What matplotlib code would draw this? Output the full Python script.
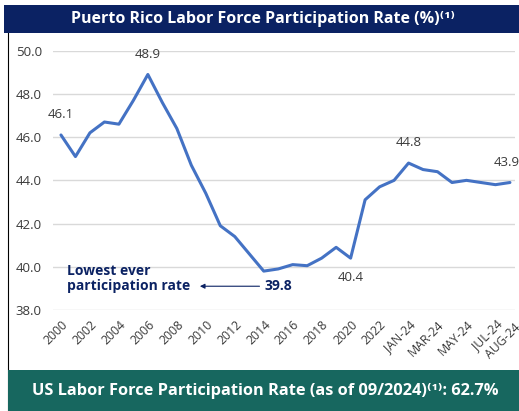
import matplotlib
matplotlib.use("Agg")
import matplotlib.pyplot as plt
import matplotlib.patches as patches
import matplotlib.transforms as mtrans

plt.rcParams['font.family'] = ['Open Sans', 'DejaVu Sans']

# data
labels = [str(y) for y in range(2000, 2024)] + \
    ['JAN-24', 'FEB-24', 'MAR-24', 'APR-24', 'MAY-24', 'JUN-24', 'JUL-24', 'AUG-24']
rate = [46.1, 45.1, 46.2, 46.7, 46.6, 47.7, 48.9, 47.6, 46.4, 44.7, 43.4, 41.9,
        41.4, 40.6, 39.8, 39.9, 40.1, 40.05, 40.4, 40.9, 40.4, 43.1, 43.7, 44.0,
        44.8, 44.5, 44.4, 43.9, 44.0, 43.9, 43.8, 43.9]
shown = ['2000', '2002', '2004', '2006', '2008', '2010', '2012', '2014', '2016',
         '2018', '2020', '2022', 'JAN-24', 'MAR-24', 'MAY-24', 'JUL-24', 'AUG-24']
yticks = [38, 40, 42, 44, 46, 48, 50]

navy = '#0b2263'
teal = '#17675f'
blue = '#4472c4'
txt = '#3a3a3a'

W, H = 519, 411
fig = plt.figure(figsize=(W / 100, H / 100), dpi=100)

# frame and colour bars
fig.patches.append(patches.Rectangle((8 / W, 0), 1, (411 - 8) / H, transform=fig.transFigure,
                                     fill=False, edgecolor='black', linewidth=0.8))
fig.patches.append(patches.Rectangle((4 / W, (411 - 33) / H), 1, 28 / H, transform=fig.transFigure,
                                     facecolor=navy, edgecolor='none'))
fig.patches.append(patches.Rectangle((8 / W, 0), 1, 41 / H, transform=fig.transFigure,
                                     facecolor=teal, edgecolor='none'))
fig.text(263 / W, (411 - 19) / H, 'Puerto Rico Labor Force Participation Rate (%)⁽¹⁾',
         color='white', fontsize=11.5, fontweight='bold', ha='center', va='center')
fig.text(265 / W, 20 / H, 'US Labor Force Participation Rate (as of 09/2024)⁽¹⁾: 62.7%',
         color='white', fontsize=11.8, fontweight='bold', ha='center', va='center')

ax = fig.add_axes([53 / W, (411 - 310) / H, (515 - 53) / W, 259.3 / H])
x = list(range(len(labels)))
ax.plot(x, rate, color=blue, linewidth=2.2, solid_joinstyle='round', solid_capstyle='round')
ax.set_xlim(-0.55, 31.35)
ax.set_ylim(38, 50)
ax.set_yticks(yticks)
ax.set_yticklabels([f'{v:.1f}' for v in yticks], color=txt, fontsize=9.5)
ax.set_xticks([labels.index(s) for s in shown])
ax.set_xticklabels(shown, rotation=45, ha='right', rotation_mode='anchor',
                   color=txt, fontsize=8.8)
ax.tick_params(length=0, axis='y', pad=8)
ax.tick_params(length=0, axis='x', pad=6)
ax.grid(axis='y', color='#d9d9d9', linewidth=1)
ax.set_axisbelow(True)
for s in ax.spines.values():
    s.set_visible(False)
# last label nudged so it does not sit on JUL-24
for t in ax.get_xticklabels():
    if t.get_text() == 'AUG-24':
        t.set_transform(t.get_transform() + mtrans.ScaledTranslation(0.04, -0.03, fig.dpi_scale_trans))

# annotations
for lab, dy in [('2000', 10), ('2006', 10), ('JAN-24', 10), ('2020', -14)]:
    i = labels.index(lab)
    ax.annotate(f'{rate[i]:.1f}', (i, rate[i]), xytext=(0, dy), textcoords='offset points',
                ha='center', va='bottom' if dy > 0 else 'center', color=txt, fontsize=9.5,
                annotation_clip=False)
i = labels.index('AUG-24')
ax.annotate(f'{rate[i]:.1f}', (i, rate[i]), xytext=(7, 10), textcoords='offset points',
            ha='right', va='bottom', color=txt, fontsize=9.5, annotation_clip=False)
i = labels.index('2014')
ax.text(i + 1.0, 39.1, f'{rate[i]:.1f}', color=navy, fontsize=10, fontweight='bold',
        ha='center', va='center')
ax.annotate('', xy=(9.4, 39.1), xytext=(13.9, 39.1),
            arrowprops=dict(arrowstyle='-|>', color=navy, lw=0.8, mutation_scale=7))
ax.text(0.4, 39.45, 'Lowest ever\nparticipation rate', color=navy, fontsize=10,
        fontweight='bold', ha='left', va='center', linespacing=1.05)

fig.savefig('out.png', dpi=100)
